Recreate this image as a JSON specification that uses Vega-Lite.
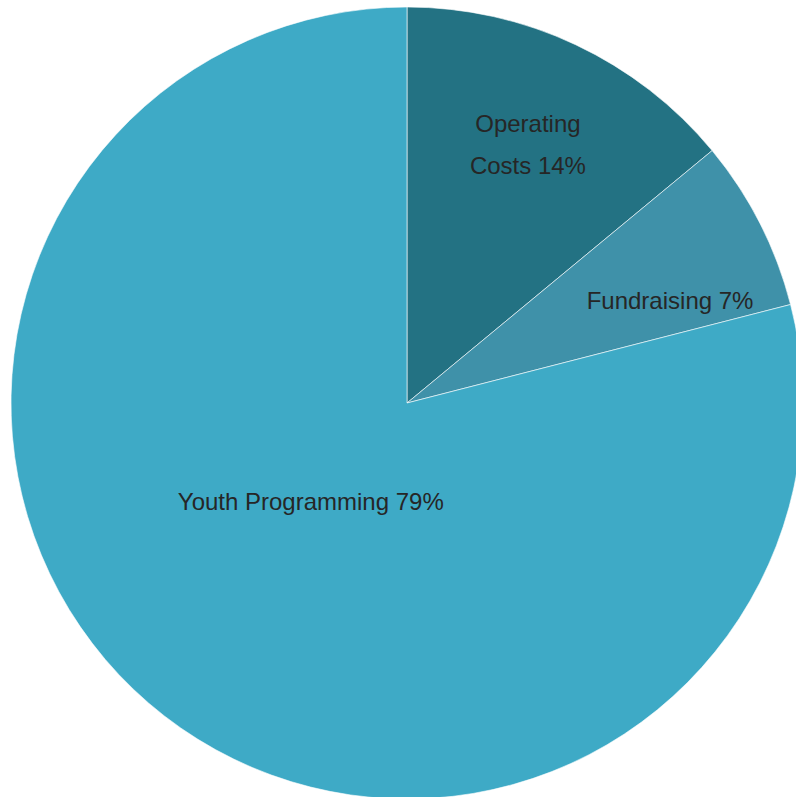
{
  "$schema": "https://vega.github.io/schema/vega-lite/v6.json",
  "width": 778,
  "height": 778,
  "padding": {"left": 9, "top": 5, "right": 0, "bottom": 0},
  "background": "#ffffff",
  "config": {"view": {"stroke": null}},
  "data": {
    "values": [
      {"category": "Operating Costs", "share": 14, "label": "Operating\nCosts 14%"},
      {"category": "Fundraising", "share": 7, "label": "Fundraising 7%"},
      {"category": "Youth Programming", "share": 79, "label": "Youth Programming 79%"}
    ]
  },
  "transform": [
    {"window": [{"op": "row_number", "as": "idx"}]},
    {"stack": "share", "groupby": [], "sort": [{"field": "idx"}], "as": ["s0", "s1"]},
    {"calculate": "(datum.s0 + datum.s1) / 2", "as": "mid"}
  ],
  "layer": [
    {
      "mark": {"type": "arc", "radius": 396, "stroke": "#ffffff", "strokeWidth": 0.6},
      "encoding": {
        "theta": {"field": "s0", "type": "quantitative", "scale": {"domain": [0, 100]}},
        "theta2": {"field": "s1"},
        "color": {
          "field": "category",
          "type": "nominal",
          "legend": null,
          "scale": {
            "domain": ["Operating Costs", "Fundraising", "Youth Programming"],
            "range": ["#237283", "#3f91a9", "#3eaac6"]
          }
        }
      }
    },
    {
      "transform": [{"filter": "datum.category == 'Operating Costs'"}],
      "mark": {"type": "text", "radius": 284, "dy": -21, "font": "Liberation Sans", "fontSize": 24, "color": "#262626", "lineBreak": "\n", "lineHeight": 42, "align": "center", "baseline": "middle"},
      "encoding": {
        "theta": {"field": "mid", "type": "quantitative"},
        "text": {"field": "label", "type": "nominal"}
      }
    },
    {
      "transform": [{"filter": "datum.category == 'Fundraising'"}],
      "mark": {"type": "text", "radius": 284, "dx": 10, "dy": 28, "font": "Liberation Sans", "fontSize": 24, "color": "#262626", "align": "center", "baseline": "middle"},
      "encoding": {
        "theta": {"field": "mid", "type": "quantitative"},
        "text": {"field": "label", "type": "nominal"}
      }
    },
    {
      "transform": [{"filter": "datum.category == 'Youth Programming'"}],
      "mark": {"type": "text", "radius": 139, "dx": -11, "dy": -10, "font": "Liberation Sans", "fontSize": 24, "color": "#262626", "align": "center", "baseline": "middle"},
      "encoding": {
        "theta": {"field": "mid", "type": "quantitative"},
        "text": {"field": "label", "type": "nominal"}
      }
    }
  ]
}
